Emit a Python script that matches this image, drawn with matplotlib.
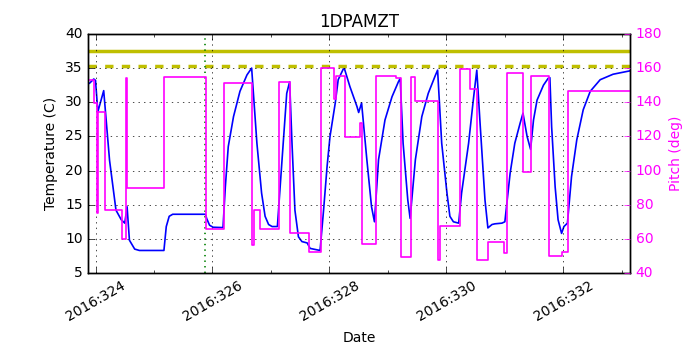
import datetime as dt
import matplotlib
matplotlib.use("Agg")
import matplotlib.pyplot as plt
import matplotlib.dates as mdates

# 1DPAMZT temperature (day of year 2016, deg C)
temp_doy = [323.875, 323.90, 323.97, 324.00, 324.04, 324.14, 324.24, 324.35, 324.44, 324.50,
            324.54, 324.58, 324.67, 324.75, 325.17, 325.21, 325.26, 325.32, 325.88, 325.90,
            325.95, 326.01, 326.18, 326.22, 326.27, 326.36, 326.47, 326.59, 326.67, 326.76,
            326.84, 326.90, 326.96, 327.02, 327.11, 327.19, 327.27, 327.32, 327.36, 327.41,
            327.47, 327.53, 327.62, 327.67, 327.84, 327.90, 327.96, 328.01, 328.10, 328.15,
            328.25, 328.35, 328.47, 328.50, 328.55, 328.64, 328.72, 328.77, 328.84, 328.95,
            329.07, 329.18, 329.21, 329.26, 329.34, 329.38, 329.47, 329.58, 329.69, 329.81,
            329.85, 329.92, 330.01, 330.06, 330.12, 330.21, 330.26, 330.38, 330.46, 330.52,
            330.58, 330.66, 330.71, 330.78, 330.83, 330.95, 331.00, 331.09, 331.17, 331.26,
            331.31, 331.38, 331.44, 331.49, 331.55, 331.66, 331.74, 331.77, 331.80, 331.86,
            331.91, 331.97, 332.01, 332.07, 332.14, 332.23, 332.34, 332.46, 332.63, 332.85,
            333.14]
temp_val = [32.7, 32.8, 33.4, 33.2, 28.6, 31.7, 21.5, 14.2, 12.8, 12.3,
            14.7, 9.8, 8.5, 8.3, 8.3, 11.8, 13.3, 13.6, 13.6, 13.0,
            12.0, 11.7, 11.65, 17.6, 23.5, 27.9, 31.6, 34.0, 35.0, 24.0,
            16.7, 13.3, 12.1, 11.8, 11.8, 21.6, 31.3, 33.0, 24.0, 14.2,
            10.3, 9.6, 9.4, 8.6, 8.3, 14.2, 20.6, 25.0, 29.9, 33.3,
            35.1, 32.3, 29.4, 28.5, 29.9, 21.6, 14.7, 12.5, 21.6, 27.4,
            30.8, 33.0, 33.5, 24.0, 15.7, 13.0, 21.6, 27.9, 31.3, 33.9,
            34.7, 24.0, 16.7, 13.3, 12.5, 12.3, 16.7, 24.0, 30.3, 34.7,
            26.4, 15.7, 11.6, 12.1, 12.2, 12.3, 12.5, 19.6, 24.0, 26.9,
            28.4, 25.0, 23.1, 27.4, 30.3, 32.5, 33.5, 33.6, 26.4, 17.6,
            12.8, 10.8, 11.8, 12.3, 19.1, 24.5, 28.9, 31.6, 33.3, 34.1,
            34.6]

# pitch (deg), value holds until next time
pitch_doy = [323.875, 323.97, 324.02, 324.04, 324.16, 324.46, 324.52, 324.54, 325.17, 325.89,
             326.20, 326.68, 326.71, 326.81, 327.13, 327.33, 327.65, 327.86, 328.08, 328.12,
             328.26, 328.52, 328.56, 328.80, 329.13, 329.22, 329.39, 329.47, 329.85, 329.89,
             330.23, 330.41, 330.53, 330.72, 330.98, 331.04, 331.31, 331.45, 331.76, 331.98,
             332.08, 333.14]
pitch_val = [153, 139.4, 75, 134.5, 77, 59.7, 154, 90, 155, 65.6,
             151.5, 56.4, 76.9, 65.6, 152, 63.3, 52.5, 159.9, 141.7, 155.4,
             119.5, 127.7, 57, 155.4, 154.0, 49.2, 154.6, 140.8, 47.6, 67.7,
             159.3, 147.5, 47.6, 58.3, 52, 157.3, 99.2, 155.4, 50, 52.3,
             146.5, 146.5]

planning_limit = 37.5
caution_limit = 35.3
marker_doy = 325.875


def doy_to_date(doy):
    return dt.datetime(2016, 1, 1) + dt.timedelta(days=doy - 1)


if __name__ == '__main__':
    plt.style.use('classic')
    plt.rcParams['font.size'] = 10

    t_temp = [doy_to_date(d) for d in temp_doy]
    t_pitch = [doy_to_date(d) for d in pitch_doy]

    fig = plt.figure(figsize=(7, 3.5), dpi=100, facecolor='white')
    ax = fig.add_axes([0.126, 0.22, 0.774, 0.683])
    ax.plot(t_temp, temp_val, color='b', lw=1.2)
    ax.axhline(planning_limit, color=(0.75, 0.75, 0), lw=2.5)
    ax.axhline(caution_limit, color=(0.75, 0.75, 0), lw=2.5, ls='--', dashes=(6, 6))
    ax.axvline(doy_to_date(marker_doy), color='g', ls=':', lw=1.2)
    ax.set_ylim(5, 40)
    ax.set_xlim(t_temp[0], t_temp[-1])
    ax.set_ylabel('Temperature (C)')
    ax.set_xlabel('Date')
    ax.set_title('1DPAMZT', fontsize=12)
    ax.grid(True, color='k', ls=':')

    ax.xaxis.set_major_locator(mdates.DayLocator(bymonthday=range(1, 32, 2)))
    ax.xaxis.set_minor_locator(mdates.DayLocator())
    ax.xaxis.set_major_formatter(mdates.DateFormatter('%Y:%j'))
    for lbl in ax.get_xticklabels():
        lbl.set_rotation(30)

    ax2 = ax.twinx()
    ax2.plot(t_pitch, pitch_val, color='magenta', lw=1.2, drawstyle='steps-post')
    ax2.set_ylim(40, 180)
    ax2.set_ylabel('Pitch (deg)', color='magenta')
    ax2.tick_params(axis='y', colors='magenta')
    ax2.set_xlim(t_temp[0], t_temp[-1])

    fig.savefig('out.png', dpi=100, facecolor='white')
